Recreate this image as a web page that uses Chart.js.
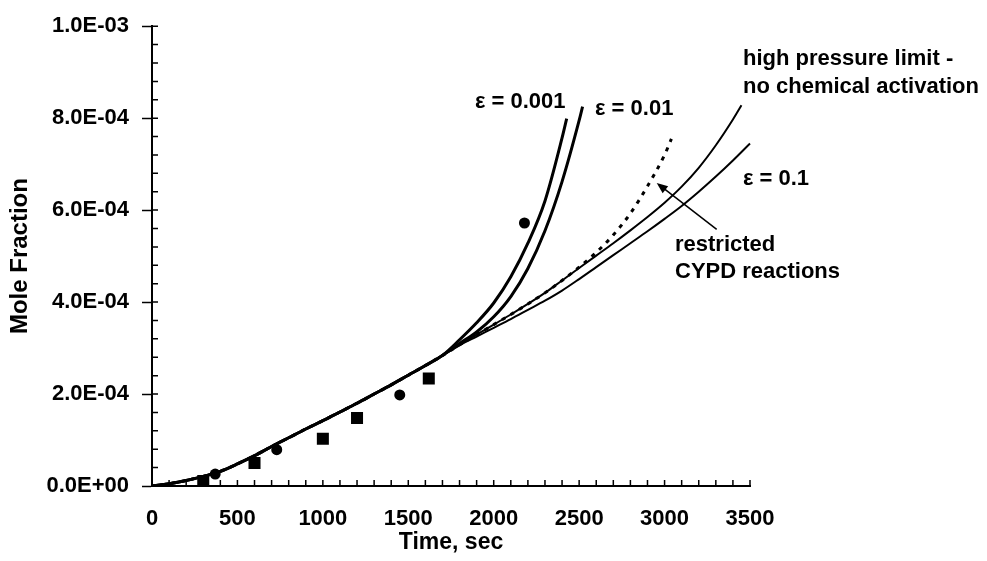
<!DOCTYPE html>
<html>
<head>
<meta charset="utf-8">
<script src="https://cdn.jsdelivr.net/npm/chart.js@4.4.0/dist/chart.umd.min.js"></script>
<style>
  html, body { margin: 0; padding: 0; background: #fff; }
  #wrap { width: 987px; height: 561px; }
</style>
</head>
<body>
<div id="wrap"><canvas id="moleChart" width="987" height="561"></canvas></div>
<script>
// mole fraction values are written in units of 1E-4
const UNIT = 1e-4;

// shared part of every model curve
const trunkTime = [ 0, 100, 200, 300, 400, 500, 600, 700, 800, 900, 1000, 1100, 1200, 1300, 1400, 1500, 1600, 1700 ];
const trunkMole = [ 0, 0.05, 0.12, 0.21, 0.32, 0.48, 0.66, 0.86, 1.05, 1.24, 1.42, 1.61, 1.80, 2.00, 2.20, 2.41, 2.62, 2.84 ];

// eps = 0.001
const eps001Time = [ 1800, 1900, 2000, 2100, 2200, 2300, 2400, 2427 ];
const eps001Mole = [ 3.18, 3.55, 3.98, 4.55, 5.28, 6.20, 7.57, 7.99 ];

// eps = 0.01
const eps01Time = [ 1800, 1900, 2000, 2100, 2200, 2300, 2400, 2500, 2520 ];
const eps01Mole = [ 3.10, 3.35, 3.68, 4.12, 4.73, 5.55, 6.62, 7.95, 8.25 ];

// high pressure limit - no chemical activation
const hpTime = [ 1800, 1900, 2000, 2100, 2200, 2300, 2400, 2500, 2600, 2700, 2800, 2900, 3000, 3100, 3200, 3300, 3400, 3450 ];
const hpMole = [ 3.07, 3.29, 3.51, 3.73, 3.96, 4.20, 4.47, 4.74, 5.01, 5.28, 5.56, 5.85, 6.16, 6.51, 6.92, 7.41, 7.97, 8.28 ];

// eps = 0.1
const eps1Time = [ 1800, 1900, 2000, 2100, 2200, 2300, 2400, 2500, 2600, 2700, 2800, 2900, 3000, 3100, 3200, 3300, 3400, 3500, 3530 ];
const eps1Mole = [ 3.06, 3.25, 3.44, 3.63, 3.83, 4.03, 4.25, 4.50, 4.76, 5.02, 5.28, 5.54, 5.81, 6.09, 6.40, 6.73, 7.08, 7.45, 7.56 ];

// restricted CYPD reactions (dotted)
const cypdTime = [ 1800, 1900, 2000, 2100, 2200, 2300, 2400, 2500, 2600, 2700, 2800, 2900, 3000, 3040 ];
const cypdMole = [ 3.07, 3.29, 3.51, 3.73, 3.96, 4.20, 4.47, 4.76, 5.08, 5.46, 5.93, 6.52, 7.20, 7.55 ];

// measured points
const squareTime = [ 300, 600, 1000, 1200, 1620 ];
const squareMole = [ 0.11, 0.50, 1.03, 1.48, 2.34 ];
const circleTime = [ 370, 730, 1450, 2180 ];
const circleMole = [ 0.26, 0.79, 1.98, 5.72 ];

// axes
const xTicks = [ 0, 500, 1000, 1500, 2000, 2500, 3000, 3500 ];
const yTicks = [ 0, 2, 4, 6, 8, 10 ];

// text placed in the plot (time, mole fraction of its left / middle)
const labelText = [ 'ε = 0.001', 'ε = 0.01', 'high pressure limit -', 'no chemical activation', 'ε = 0.1', 'restricted', 'CYPD reactions' ];
const labelTime = [ 1890, 2593, 3459, 3459, 3459, 3061, 3061 ];
const labelMole = [ 8.35, 8.20, 9.29, 8.68, 6.67, 5.24, 4.65 ];
const arrowTime = [ 3305, 2954 ];
const arrowMole = [ 5.58, 6.59 ];

const FONT = 'Liberation Sans, Arial, sans-serif';

function toPoints(times, moles) {
  return times.map((t, i) => ({ x: t, y: moles[ i ] * UNIT }));
}
function curve(times, moles) {
  return toPoints(trunkTime.concat(times), trunkMole.concat(moles));
}
function sciLabel(v) {
  if (Math.abs(v) < 1e-12) return '0.0E+00';
  const e = Math.floor(Math.log10(v) + 1e-9);
  const m = v / Math.pow(10, e);
  return m.toFixed(1) + 'E' + (e < 0 ? '-' : '+') + String(Math.abs(e)).padStart(2, '0');
}

const lineBase = {
  showLine: true,
  pointRadius: 0,
  borderColor: '#000',
  backgroundColor: '#000',
  fill: false,
  cubicInterpolationMode: 'monotone',
};

// minor ticks and in-plot labels
const extras = {
  id: 'extras',
  afterDraw(chart) {
    const { ctx, scales: { x, y } } = chart;
    ctx.save();
    ctx.strokeStyle = '#000';
    ctx.lineWidth = 1.5;
    ctx.beginPath();
    for (let t = 0; t <= 3500; t += 100) {
      const px = x.getPixelForValue(t);
      ctx.moveTo(px, y.bottom);
      ctx.lineTo(px, y.bottom - 6);
    }
    for (let k = 0; k <= 25; k++) {
      const py = y.getPixelForValue(k * 0.4 * UNIT);
      ctx.moveTo(x.left, py);
      ctx.lineTo(x.left + 6, py);
    }
    ctx.stroke();

    ctx.fillStyle = '#000';
    ctx.font = 'bold 22px ' + FONT;
    ctx.textAlign = 'left';
    ctx.textBaseline = 'middle';
    labelText.forEach((txt, i) => {
      ctx.fillText(txt, x.getPixelForValue(labelTime[ i ]), y.getPixelForValue(labelMole[ i ] * UNIT));
    });

    // arrow to the dotted curve
    const x0 = x.getPixelForValue(arrowTime[ 0 ]), y0 = y.getPixelForValue(arrowMole[ 0 ] * UNIT);
    const x1 = x.getPixelForValue(arrowTime[ 1 ]), y1 = y.getPixelForValue(arrowMole[ 1 ] * UNIT);
    const a = Math.atan2(y1 - y0, x1 - x0);
    ctx.lineWidth = 1.5;
    ctx.beginPath();
    ctx.moveTo(x0, y0);
    ctx.lineTo(x1 - 6 * Math.cos(a), y1 - 6 * Math.sin(a));
    ctx.stroke();
    ctx.beginPath();
    ctx.moveTo(x1, y1);
    ctx.lineTo(x1 - 11 * Math.cos(a) + 4.5 * Math.sin(a), y1 - 11 * Math.sin(a) - 4.5 * Math.cos(a));
    ctx.lineTo(x1 - 11 * Math.cos(a) - 4.5 * Math.sin(a), y1 - 11 * Math.sin(a) + 4.5 * Math.cos(a));
    ctx.closePath();
    ctx.fill();
    ctx.restore();
  }
};

const config = {
  type: 'scatter',
  data: {
    datasets: [
      Object.assign({}, lineBase, { label: 'restricted CYPD reactions', data: curve(cypdTime, cypdMole), borderWidth: 3, borderDash: [ 4, 6 ] }),
      Object.assign({}, lineBase, { label: 'high pressure limit', data: curve(hpTime, hpMole), borderWidth: 2 }),
      Object.assign({}, lineBase, { label: 'ε = 0.1', data: curve(eps1Time, eps1Mole), borderWidth: 2, clip: false }),
      Object.assign({}, lineBase, { label: 'ε = 0.01', data: curve(eps01Time, eps01Mole), borderWidth: 3 }),
      Object.assign({}, lineBase, { label: 'ε = 0.001', data: curve(eps001Time, eps001Mole), borderWidth: 3 }),
      {
        label: 'squares',
        data: toPoints(squareTime, squareMole),
        pointStyle: 'rect',
        pointRadius: 8.5,
        backgroundColor: '#000',
        borderColor: '#000',
        borderWidth: 0,
      },
      {
        label: 'circles',
        data: toPoints(circleTime, circleMole),
        pointStyle: 'circle',
        pointRadius: 5.5,
        backgroundColor: '#000',
        borderColor: '#000',
        borderWidth: 0,
      },
    ]
  },
  options: {
    responsive: false,
    animation: false,
    devicePixelRatio: 1,
    layout: { padding: { left: 0, top: 24, right: 237, bottom: 0 } },
    plugins: {
      legend: { display: false },
      tooltip: { enabled: false },
    },
    scales: {
      x: {
        type: 'linear',
        min: 0,
        max: 3500,
        afterFit(scale) { scale.height = 75; },
        afterBuildTicks(scale) { scale.ticks = xTicks.map(v => ({ value: v })); },
        border: { display: true, color: '#000', width: 2 },
        grid: { display: true, drawOnChartArea: false, drawTicks: false },
        ticks: {
          padding: 20,
          color: '#000',
          font: { family: FONT, size: 22, weight: 'bold' },
          maxRotation: 0,
          callback: (v) => String(v),
        },
        title: {
          display: true,
          text: 'Time, sec',
          color: '#000',
          font: { family: FONT, size: 23, weight: 'bold' },
          padding: { top: 0, bottom: 5 },
        },
      },
      y: {
        type: 'linear',
        min: 0,
        max: 10 * UNIT,
        afterFit(scale) { scale.width = 152; },
        afterBuildTicks(scale) { scale.ticks = yTicks.map(v => ({ value: v * UNIT })); },
        border: { display: true, color: '#000', width: 2 },
        grid: { display: true, drawOnChartArea: false, drawTicks: true, tickLength: 10, color: '#000', tickWidth: 1.5 },
        ticks: {
          padding: 13,
          color: '#000',
          font: { family: FONT, size: 22, weight: 'bold' },
          callback: (v) => sciLabel(v),
        },
        title: {
          display: true,
          text: 'Mole Fraction',
          color: '#000',
          font: { family: FONT, size: 24, weight: 'bold' },
          padding: { top: 6, bottom: 0 },
        },
      },
    },
  },
  plugins: [ extras ],
};

// init chart
const moleChart = new Chart(document.getElementById('moleChart'), config);
</script>
</body>
</html>
